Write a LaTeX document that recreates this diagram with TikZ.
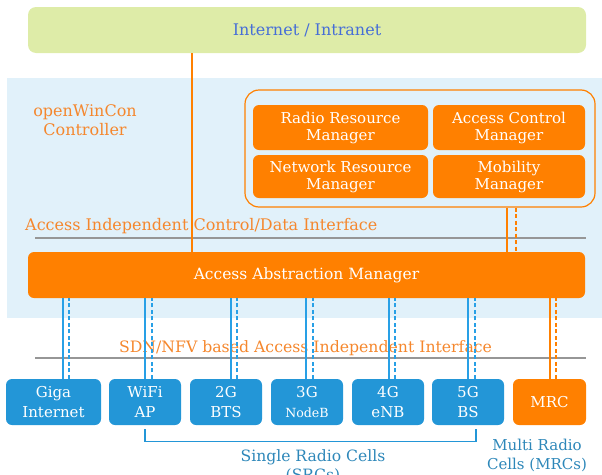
\documentclass[tikz,border=0pt]{standalone}
\usepackage{fontspec}
\setmainfont{DejaVu Serif}
\usepackage{tikz}
\usetikzlibrary{positioning}

\definecolor{wcOrange}{RGB}{255,128,0}
\definecolor{wcOrangeText}{RGB}{245,135,45}
\definecolor{wcBlue}{RGB}{35,150,215}
\definecolor{wcBlueLink}{RGB}{40,160,230}
\definecolor{wcBg}{RGB}{225,241,250}
\definecolor{wcGreen}{RGB}{222,236,168}
\definecolor{wcInetText}{RGB}{70,110,215}
\definecolor{wcCellText}{RGB}{45,135,185}
\definecolor{wcGray}{RGB}{150,150,150}

\begin{document}
\begin{tikzpicture}[
    x=1pt, y=-1pt,
    font=\fontsize{15}{17}\selectfont,
    mgrBox/.style={fill=wcOrange, text=white, rounded corners=6pt, inner sep=0pt, align=center, font=\fontsize{15}{17}\selectfont, minimum width=#1},
    cellBox/.style={fill=wcBlue, text=white, rounded corners=6pt, inner sep=0pt, align=center, font=\fontsize{15}{19.5}\selectfont, minimum width=#1, minimum height=46pt},
    ifLine/.style={draw=wcGray, line width=2pt},
    ifLabel/.style={text=wcOrangeText, inner sep=0pt, font=\fontsize{16}{18}\selectfont},
    cellLabel/.style={text=wcCellText, align=center, inner sep=0pt},
    blueLink/.style={draw=wcBlueLink, line width=1.4pt},
    orangeLink/.style={draw=wcOrange, line width=1.4pt},
    dashLink/.style={dash pattern=on 4pt off 2.5pt}
]
    \useasboundingbox (0,0) rectangle (602,474);

    % Controller background
    \fill [wcBg] (7,78) rectangle (602,318);

    % Internet / Intranet
    \node [fill=wcGreen, rounded corners=8pt, minimum width=558pt, minimum height=46pt, text=wcInetText, font=\fontsize{16}{18}\selectfont] (inet) at (307,30) {Internet / Intranet};

    \node [text=wcOrangeText, align=center, font=\fontsize{16}{19}\selectfont] (ctrl) at (85,120) {openWinCon\\Controller};

    % Manager group
    \node [draw=wcOrange, line width=1.2pt, rounded corners=14pt, minimum width=350pt, minimum height=117pt] (mgrs) at (420,148.5) {};
    \node [mgrBox=175pt, minimum height=45pt] (rrm) at (340.5,127.5) {Radio Resource\\Manager};
    \node [mgrBox=152pt, minimum height=45pt] (acm) at (509,127.5) {Access Control\\Manager};
    \node [mgrBox=175pt, minimum height=43pt] (nrm) at (340.5,176.5) {Network Resource\\Manager};
    \node [mgrBox=152pt, minimum height=43pt] (mm) at (509,176.5) {Mobility\\Manager};

    % Access independent control/data interface
    \node [ifLabel, anchor=west] (cdif) at (25,226) {Access Independent Control/Data Interface};
    \draw [ifLine] (35,238) -- (586,238);

    % Access Abstraction Manager
    \node [mgrBox=557pt, minimum height=46pt, font=\fontsize{15.5}{17}\selectfont] (aam) at (306.5,275) {Access Abstraction Manager};

    % SDN/NFV interface
    \node [ifLabel, font=\fontsize{15.7}{18}\selectfont] (sdnif) at (305.5,348) {SDN/NFV based Access Independent Interface};
    \draw [ifLine] (35,358) -- (586,358);

    % Radio cells
    \node [cellBox=95pt] (giga) at (53.5,402) {Giga\\Internet};
    \node [cellBox=72pt] (wifi) at (145,402) {WiFi\\AP};
    \node [cellBox=72pt] (g2) at (226,402) {2G\\BTS};
    \node [cellBox=72pt] (g3) at (307,402) {3G\\{\fontsize{12.6}{19.5}\selectfont NodeB}};
    \node [cellBox=72pt] (g4) at (388,402) {4G\\eNB};
    \node [cellBox=72pt] (g5) at (468,402) {5G\\BS};
    \node [cellBox=73pt, fill=wcOrange] (mrc) at (549.5,402) {MRC};

    % Links from the controller
    \draw [orangeLink] ([xshift=-115pt]inet.south) -- ([xshift=-115pt]inet.south |- aam.north);
    \draw [orangeLink] ([xshift=87pt]mgrs.south) -- ([xshift=87pt]mgrs.south |- aam.north);
    \draw [orangeLink, dashLink] ([xshift=96pt]mgrs.south) -- ([xshift=96pt]mgrs.south |- aam.north);

    % Links to the cells (solid/dashed pairs)
    \foreach \cell/\s/\d in {giga/9.5/15.5, wifi/0/7, g2/5/11, g3/-1/6, g4/1/7, g5/0/7} {
        \draw [blueLink] ([xshift=\s pt]\cell.north) -- ([xshift=\s pt]\cell.north |- aam.south);
        \draw [blueLink, dashLink] ([xshift=\d pt]\cell.north) -- ([xshift=\d pt]\cell.north |- aam.south);
    }
    \draw [orangeLink] ([xshift=0.5pt]mrc.north) -- ([xshift=0.5pt]mrc.north |- aam.south);
    \draw [orangeLink, dashLink] ([xshift=6.5pt]mrc.north) -- ([xshift=6.5pt]mrc.north |- aam.south);

    % Cell groups
    \draw [blueLink, draw=wcBlue] ([yshift=-4pt]wifi.south) -- ++(0,12) -| ([xshift=8pt,yshift=-4pt]g5.south);
    \node [cellLabel, font=\fontsize{15.6}{19}\selectfont] (srcs) at (313,466.5) {Single Radio Cells\\(SRCs)};
    \node [cellLabel, font=\fontsize{15}{19}\selectfont] (mrcs) at (537,455.5) {Multi Radio\\Cells (MRCs)};
\end{tikzpicture}
\end{document}
